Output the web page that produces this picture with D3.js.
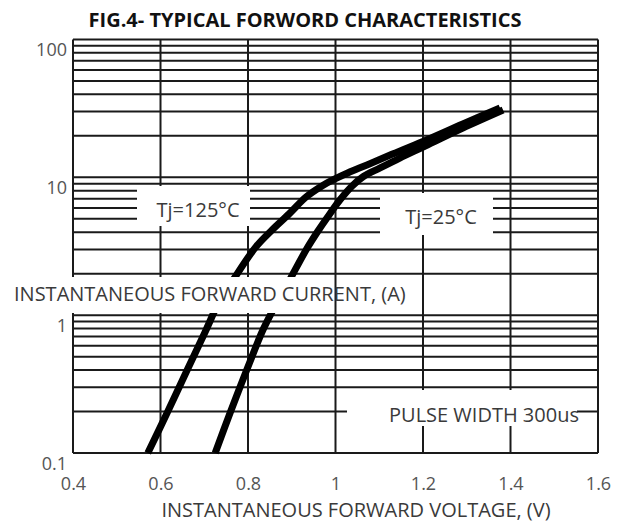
<!DOCTYPE html>
<html>
<head>
<meta charset="utf-8">
<script src="https://cdn.jsdelivr.net/npm/d3@7"></script>
<style>
  body { margin: 0; background: #fff; }
  svg { display: block; font-family: "Open Sans", sans-serif; }
  .grid line { stroke: #1a1a1a; stroke-width: 2; }
  .tick-label { fill: #555; font-size: 18px; }
  .note { fill: #3a3a3a; font-size: 20px; }
  .curve { fill: none; stroke: #000; stroke-width: 7; stroke-linejoin: round; }
</style>
</head>
<body>
<svg id="chart" width="626" height="522"></svg>
<script>
// Axis ticks
const xTicks = [0.4, 0.6, 0.8, 1, 1.2, 1.4, 1.6];
const yTicks = [0.1, 1, 10, 100];

// Tj = 125°C curve (forward voltage V, forward current A)
const vf125 = [0.571, 0.615, 0.661, 0.702, 0.734, 0.766, 0.818, 0.855, 0.894, 0.933, 0.969, 0.994, 1.029, 1.072, 1.125, 1.2, 1.291, 1.376];
const if125 = [0.1, 0.195, 0.40, 0.755, 1.25, 1.80, 3.13, 4.15, 5.43, 7.21, 8.66, 9.57, 10.8, 12.3, 14.5, 18.2, 24.4, 31.9];

// Tj = 25°C curve
const vf25 = [0.725, 0.759, 0.797, 0.834, 0.857, 0.894, 0.934, 0.96, 0.982, 1.01, 1.038, 1.063, 1.102, 1.147, 1.2, 1.291, 1.383];
const if25 = [0.1, 0.195, 0.40, 0.78, 1.09, 1.77, 3.02, 4.08, 5.16, 6.85, 8.66, 10.1, 11.7, 13.8, 16.6, 22.8, 30.8];

const svg = d3.select('#chart');

// Plot area
const margin = { top: 39.5, left: 73 };
const width = 525;
const height = 413.5;

const chart = svg.append('g')
  .attr('transform', `translate(${margin.left},${margin.top})`);

const xScale = d3.scaleLinear()
  .domain([0.4, 1.6])
  .range([0, width]);

const yScale = d3.scaleLog()
  .domain([0.1, 100])
  .range([height, 0]);

// Grid: vertical lines every 0.2 V, horizontal lines at 1..9 of every decade
const grid = chart.append('g').attr('class', 'grid');
grid.selectAll('.vline')
  .data(xTicks)
  .join('line')
  .attr('class', 'vline')
  .attr('x1', (d) => xScale(d))
  .attr('x2', (d) => xScale(d))
  .attr('y1', 0)
  .attr('y2', height);
grid.selectAll('.hline')
  .data(yScale.ticks())
  .join('line')
  .attr('class', 'hline')
  .attr('x1', 0)
  .attr('x2', width)
  .attr('y1', (d) => yScale(d))
  .attr('y2', (d) => yScale(d));

// White boxes behind the text (they break the grid like in the original)
const boxes = [
  { x: 8, y: 277, w: 324, h: 36 },   // y-axis title
  { x: 137, y: 186, w: 113, h: 40 }, // Tj=125
  { x: 380, y: 193, w: 113, h: 42 }, // Tj=25
  { x: 347, y: 390, w: 230, h: 36 }, // pulse width
];
svg.selectAll('.box')
  .data(boxes)
  .join('rect')
  .attr('class', 'box')
  .attr('x', (d) => d.x)
  .attr('y', (d) => d.y)
  .attr('width', (d) => d.w)
  .attr('height', (d) => d.h)
  .attr('fill', '#fff');

// Tick labels
const xAxis = chart.append('g')
  .attr('transform', `translate(0,${height})`)
  .call(d3.axisBottom(xScale).tickValues(xTicks).tickSize(0).tickPadding(24).tickFormat(d3.format('')));
const yAxis = chart.append('g')
  .call(d3.axisLeft(yScale).tickValues(yTicks).tickSize(0).tickPadding(6).tickFormat(d3.format('')));
[xAxis, yAxis].forEach((ax) => {
  ax.select('.domain').remove();
  ax.selectAll('text')
    .attr('class', 'tick-label')
    .attr('fill', null)
    .style('font-family', '"Open Sans", sans-serif')
    .style('font-size', '18px');
});
yAxis.selectAll('text').attr('dy', '0.9em');

// Title
svg.append('text')
  .attr('x', 305)
  .attr('y', 27)
  .attr('text-anchor', 'middle')
  .style('font-weight', 'bold')
  .style('font-size', '20px')
  .attr('fill', '#111')
  .text('FIG.4- TYPICAL FORWORD CHARACTERISTICS');

// Axis titles
svg.append('text')
  .attr('class', 'note')
  .attr('x', 356)
  .attr('y', 517)
  .attr('text-anchor', 'middle')
  .text('INSTANTANEOUS FORWARD VOLTAGE, (V)');

svg.append('text')
  .attr('class', 'note')
  .attr('x', 14)
  .attr('y', 301)
  .text('INSTANTANEOUS FORWARD CURRENT, (A)');

// Curve annotations
svg.append('text').attr('class', 'note').attr('x', 198).attr('y', 217).attr('text-anchor', 'middle').text('Tj=125°C');
svg.append('text').attr('class', 'note').attr('x', 441).attr('y', 224).attr('text-anchor', 'middle').text('Tj=25°C');
svg.append('text').attr('class', 'note').attr('x', 484).attr('y', 422).attr('text-anchor', 'middle').text('PULSE WIDTH 300us');

// Curves
const line = d3.line()
  .x((d) => xScale(d[0]))
  .y((d) => yScale(d[1]))
  .curve(d3.curveCatmullRom);

chart.append('path')
  .datum(d3.zip(vf125, if125))
  .attr('class', 'curve')
  .attr('d', line);

chart.append('path')
  .datum(d3.zip(vf25, if25))
  .attr('class', 'curve')
  .attr('d', line);
</script>
</body>
</html>
